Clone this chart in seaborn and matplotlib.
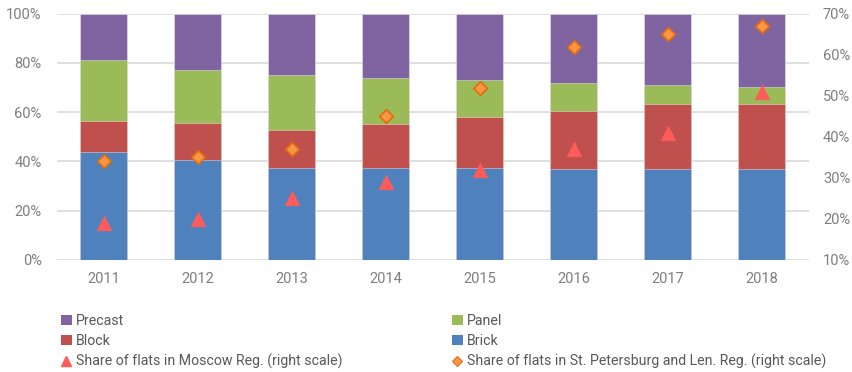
import matplotlib
matplotlib.use("Agg")
import matplotlib.pyplot as plt
from matplotlib.patches import Patch
from matplotlib.lines import Line2D
from matplotlib.ticker import FuncFormatter, MultipleLocator
import seaborn as sns
import pandas as pd

# Housing completions by wall material, % of total
years = ["2011", "2012", "2013", "2014", "2015", "2016", "2017", "2018"]
brick = [43.6, 40.4, 37.1, 37.1, 37.1, 37.0, 37.0, 36.9]
block = [12.8, 15.3, 15.5, 18.2, 20.9, 23.6, 26.4, 26.5]
panel = [24.6, 21.3, 22.3, 18.7, 15.0, 11.4, 7.6, 6.7]
precast = [19.0, 23.0, 25.1, 26.0, 27.0, 28.0, 29.0, 29.9]

# Regional shares of flats, % (right scale)
moscow_reg = [19, 20, 25, 29, 32, 37, 41, 51]
spb_len_reg = [34, 35, 37, 45, 52, 62, 65, 67]

C_BRICK = "#4F81BD"
C_BLOCK = "#C0504D"
C_PANEL = "#9BBB59"
C_PRECAST = "#8064A2"
C_MOSCOW = "#FF5B5B"
C_SPB = "#F79646"
C_SPB_EDGE = "#E46C0A"
TICK_COLOR = "#7F7F7F"
LEGEND_COLOR = "#595959"
GRID_COLOR = "#D9D9D9"

sns.set_style("white")
plt.rcParams["font.family"] = ["Roboto", "DejaVu Sans"]

df = pd.DataFrame({"year": years, "Brick": brick, "Block": block,
                   "Panel": panel, "Precast": precast})
df["to_block"] = df["Brick"] + df["Block"]
df["to_panel"] = df["to_block"] + df["Panel"]
df["to_precast"] = df["to_panel"] + df["Precast"]

fig = plt.figure(figsize=(8.53, 3.72), dpi=100)
ax = fig.add_axes([57 / 853, 1 - 259.7 / 372, (809 - 57) / 853, (259.7 - 13.7) / 372])

# stacked bars: draw cumulative totals from the top layer down
layers = [("to_precast", C_PRECAST), ("to_panel", C_PANEL),
          ("to_block", C_BLOCK), ("Brick", C_BRICK)]
for col, color in layers:
    sns.barplot(data=df, x="year", y=col, color=color, width=0.5,
                saturation=1, edgecolor=(1, 1, 1, 0.45), linewidth=0.6,
                ax=ax, zorder=2)

ax.set_xlim(-0.5, 7.5)
ax.set_ylim(0, 100)
ax.yaxis.set_major_locator(MultipleLocator(20))
ax.yaxis.set_major_formatter(FuncFormatter(lambda v, p: f"{v:.0f}%"))
ax.grid(axis="y", color=GRID_COLOR, linewidth=1.2, zorder=0)
ax.set_axisbelow(True)
for s in ax.spines.values():
    s.set_visible(False)
ax.set_xlabel("")
ax.set_ylabel("")
ax.tick_params(axis="y", length=0, pad=11, labelsize=10.5, labelcolor=TICK_COLOR)
ax.tick_params(axis="x", length=0, pad=9, labelsize=10.5, labelcolor=TICK_COLOR)

# regional shares on the right scale
ax2 = ax.twinx()
sns.scatterplot(x=years, y=moscow_reg, marker="^", s=110, color=C_MOSCOW,
                edgecolor=C_MOSCOW, linewidth=0.5, ax=ax2, zorder=5)
sns.scatterplot(x=years, y=spb_len_reg, marker="D", s=48, color=C_SPB,
                edgecolor=C_SPB_EDGE, linewidth=1.2, ax=ax2, zorder=5)
ax2.set_xlim(-0.5, 7.5)
ax2.set_ylim(10, 70)
ax2.yaxis.set_major_locator(MultipleLocator(10))
ax2.yaxis.set_major_formatter(FuncFormatter(lambda v, p: f"{v:.0f}%"))
for s in ax2.spines.values():
    s.set_visible(False)
ax2.grid(False)
ax2.set_ylabel("")
ax2.tick_params(axis="y", length=0, pad=10, labelsize=10.5, labelcolor=TICK_COLOR)

# legend in two columns below the plot
sq = dict(linewidth=0)
left_handles = [
    Patch(facecolor=C_PRECAST, **sq),
    Patch(facecolor=C_BLOCK, **sq),
    Line2D([], [], linestyle="", marker="^", markersize=7, color=C_MOSCOW),
]
left_labels = ["Precast", "Block", "Share of flats in Moscow Reg. (right scale)"]
right_handles = [
    Patch(facecolor=C_PANEL, **sq),
    Patch(facecolor=C_BRICK, **sq),
    Line2D([], [], linestyle="", marker="D", markersize=5, color=C_SPB,
           markeredgecolor=C_SPB_EDGE, markeredgewidth=0.8),
]
right_labels = ["Panel", "Brick", "Share of flats in St. Petersburg and Len. Reg. (right scale)"]

leg_kw = dict(loc="upper left", frameon=False, fontsize=10.2, borderpad=0,
              borderaxespad=0, handlelength=0.75, handleheight=0.75,
              handletextpad=0.3, labelspacing=0.42, labelcolor=LEGEND_COLOR)
fig.legend(left_handles, left_labels, bbox_to_anchor=(61 / 853, 1 - 314 / 372), **leg_kw)
fig.legend(right_handles, right_labels, bbox_to_anchor=(452 / 853, 1 - 314 / 372), **leg_kw)

fig.savefig("out.png", dpi=100)
